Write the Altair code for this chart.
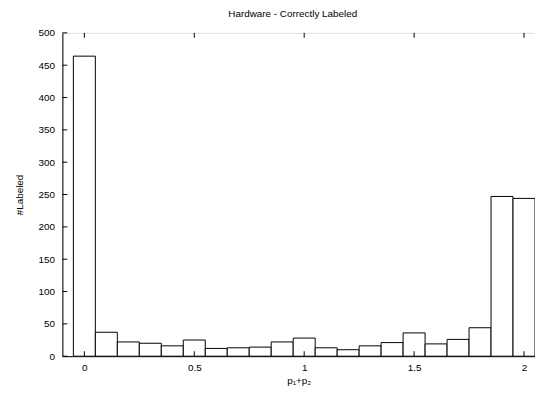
import altair as alt
import pandas as pd

centers = [0.0, 0.1, 0.2, 0.3, 0.4, 0.5, 0.6, 0.7, 0.8, 0.9, 1.0,
           1.1, 1.2, 1.3, 1.4, 1.5, 1.6, 1.7, 1.8, 1.9, 2.0]
counts = [464, 37, 22, 20, 16, 25, 12, 13, 14, 22, 28,
          13, 10, 16, 21, 36, 19, 26, 44, 247, 244]
x_ticks = [0, 0.5, 1, 1.5, 2]
y_ticks = [0, 50, 100, 150, 200, 250, 300, 350, 400, 450, 500]

W, H = 478, 327
FONT = "Liberation Sans"

df = pd.DataFrame({"c": centers, "n": counts})
df["x0"] = df["c"] - 0.05
df["x1"] = df["c"] + 0.05
xt = pd.DataFrame({"t": x_ticks})
yt = pd.DataFrame({"t": y_ticks})

xscale = alt.Scale(domain=[-0.1, 2.05], nice=False, zero=False)
yscale = alt.Scale(domain=[0, 500], nice=False)

xaxis = alt.Axis(values=x_ticks, format="~g", labelPadding=6, title="p₁+p₂", titlePadding=4)
yaxis = alt.Axis(values=y_ticks, labelPadding=8, title="#Labeled", titlePadding=14)

bars = alt.Chart(df).mark_rect(fill="white", stroke="black", strokeWidth=1).encode(
    x=alt.X("x0:Q", scale=xscale, axis=xaxis),
    x2="x1:Q",
    y=alt.Y("n:Q", scale=yscale, axis=yaxis),
    y2=alt.datum(0),
)

xb = alt.Chart(xt).mark_rule(color="black", strokeWidth=1).encode(
    x=alt.X("t:Q", scale=xscale, axis=xaxis), y=alt.value(H), y2=alt.value(H - 5))
xtop = alt.Chart(xt).mark_rule(color="black", strokeWidth=1).encode(
    x=alt.X("t:Q", scale=xscale, axis=xaxis), y=alt.value(0), y2=alt.value(5))
yl = alt.Chart(yt).mark_rule(color="black", strokeWidth=1).encode(
    y=alt.Y("t:Q", scale=yscale, axis=yaxis), x=alt.value(0), x2=alt.value(5))

chart = alt.layer(bars, xb, xtop, yl).properties(
    width=W, height=H,
    title=alt.TitleParams("Hardware - Correctly Labeled", font=FONT, fontSize=10,
                          fontWeight="normal", color="black", offset=9, dx=-6),
    autosize=alt.AutoSizeParams(type="none"),
    padding={"left": 55, "top": 23, "right": 0, "bottom": 28},
).configure_view(stroke="black", strokeWidth=1).configure(
    background="white"
).configure_axis(
    tickSize=0, labelOverlap=False, grid=False, domainColor="black",
    labelColor="black", titleColor="black", labelFont=FONT, titleFont=FONT,
    labelFontSize=10, titleFontSize=10, titleFontWeight="normal",
)

chart.save("out.html", embed_options={"renderer": "svg", "actions": False})
